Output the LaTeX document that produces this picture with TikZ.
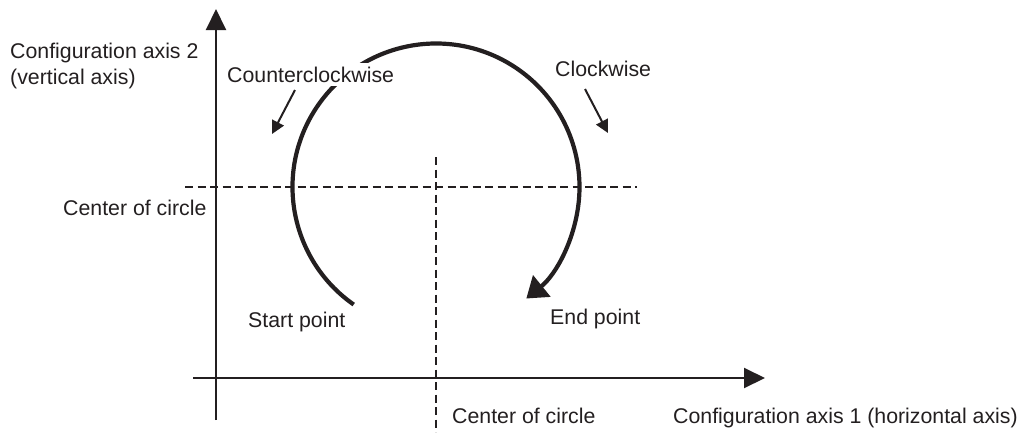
\documentclass[tikz,border=0pt]{standalone}
\usepackage{fontspec}
\setmainfont{Liberation Sans}
\usetikzlibrary{arrows.meta}
\definecolor{ink}{HTML}{231F20}
\begin{document}
\begin{tikzpicture}[x=1pt,y=-1pt,
  lbl/.style={anchor=base west,inner sep=0pt,text=ink,font=\fontsize{21.3}{25.5}\selectfont},
  axis/.style={draw=ink,line width=2pt,-{Triangle[length=21pt,width=20pt]}},
  guide/.style={draw=ink,line width=1.6pt,dash pattern=on 8pt off 4.5pt},
  path/.style={draw=ink,line width=4.2pt,-{Triangle[length=20pt,width=27pt]}},
  hint/.style={draw=ink,line width=2pt,-{Triangle[length=13pt,width=13pt]}}]
\useasboundingbox (0,0) rectangle (1020,432);
% axes
\coordinate (vb) at (216,420);
\coordinate (vt) at (216,9);
\coordinate (hl) at (193,378);
\coordinate (hr) at (765,378);
\draw[axis] (vb) -- (vt);
\draw[axis] (hl) -- (hr);
% centre guides
\coordinate (gl) at (185,187);
\coordinate (gr) at (637,187);
\coordinate (gt) at (436,157);
\coordinate (gb) at (436,432);
\draw[guide] (gl) -- (gr);
\draw[guide] (gt) -- (gb);
% circular path
\coordinate (ctr) at (436,187);
\draw[path] (ctr) ++(125:143.5) arc[start angle=125,end angle=411,radius=143.5];
% direction hints
\coordinate (ccs) at (295,90);
\coordinate (cce) at (272,134);
\coordinate (cws) at (585,89);
\coordinate (cwe) at (608,133);
\draw[hint] (ccs) -- (cce);
\draw[hint] (cws) -- (cwe);
% labels
\node[lbl] (ax2) at (10,58) {Configuration axis 2};
\node[lbl] (ax2b) at (10,84) {(vertical axis)};
\node[lbl,fill=white,inner xsep=2pt,inner ysep=4pt] (ccw) at (225,82) {Counterclockwise};
\node[lbl] (cw) at (555,76) {Clockwise};
\node[lbl] (cc1) at (63,215) {Center of circle};
\node[lbl] (st) at (248,327) {Start point};
\node[lbl] (en) at (550,324) {End point};
\node[lbl] (cc2) at (452,423) {Center of circle};
\node[lbl] (ax1) at (673,423) {Configuration axis 1 (horizontal axis)};
\end{tikzpicture}
\end{document}
